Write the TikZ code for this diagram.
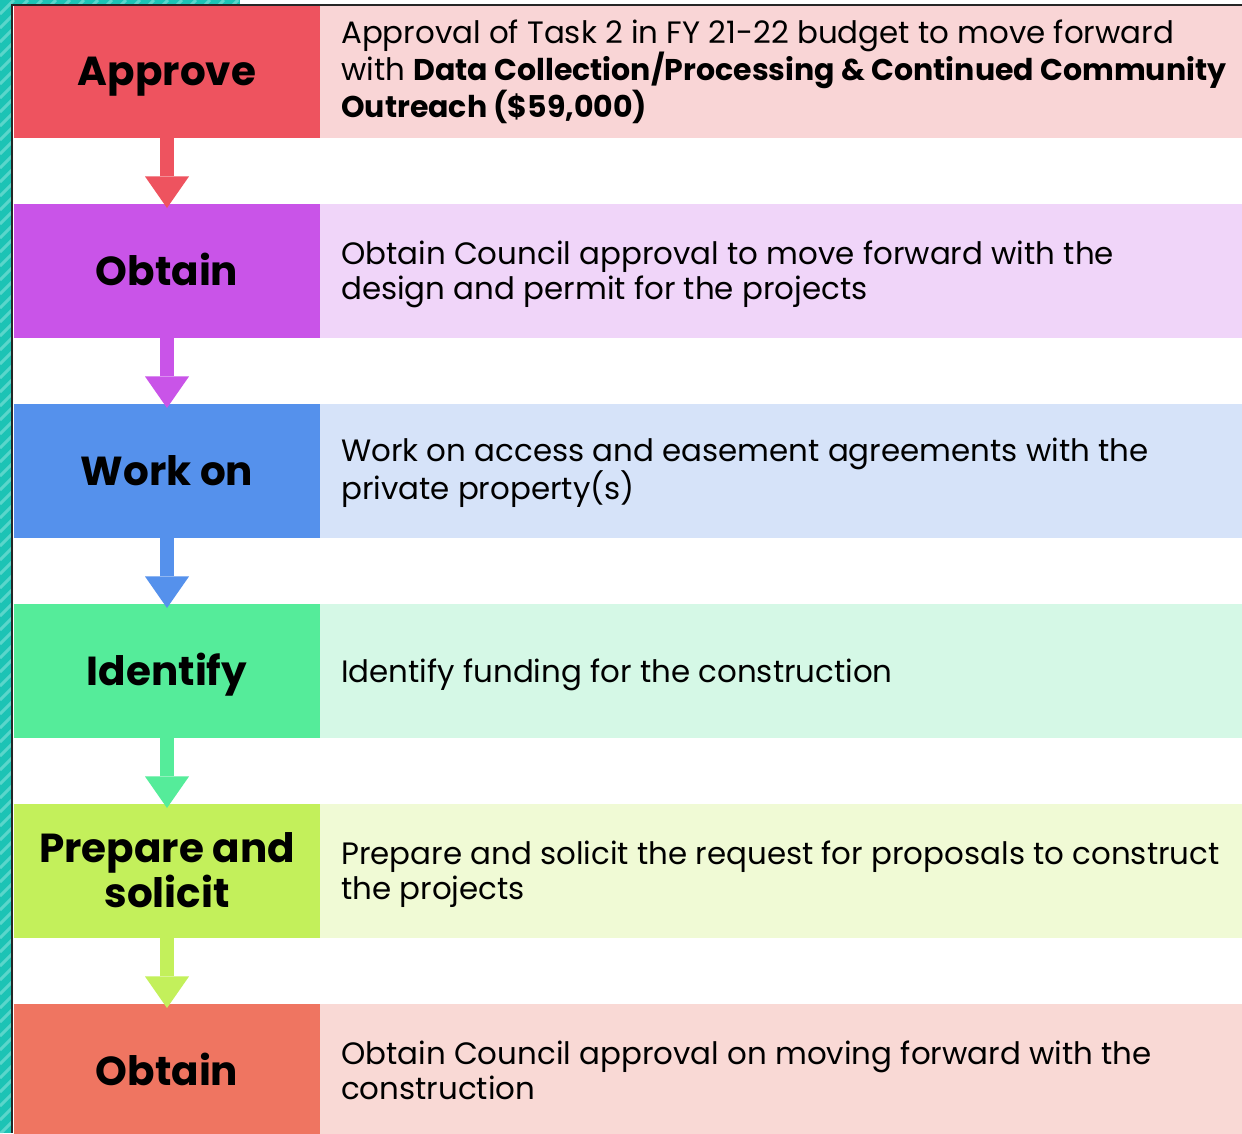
\documentclass[tikz,border=0pt]{standalone}
\usepackage{fontspec}
\setmainfont{Poppins}
\usetikzlibrary{calc}
\newcommand{\bpart}[1]{{\fontsize{30}{35.5}\selectfont\bfseries #1}}
\begin{document}
\begin{tikzpicture}[x=1pt,y=-1pt,
  lbl/.style={font=\fontsize{40.5}{45}\selectfont\bfseries, align=center, text=black, anchor=base, inner sep=0pt},
  desc/.style={font=\fontsize{30.9}{35.5}\selectfont, align=left, anchor=base west, text=black, inner sep=0pt},
  leftbox/.style={minimum width=306pt, minimum height=134pt, inner sep=0pt, anchor=north west},
  rightbox/.style={minimum width=922pt, minimum height=134pt, inner sep=0pt, anchor=north west}
]
\definecolor{teal}{HTML}{1CC3B5}
\definecolor{teall}{HTML}{5AD6CB}
\definecolor{c1}{HTML}{EE535F}\definecolor{l1}{HTML}{F9D5D6}
\definecolor{c2}{HTML}{C954E8}\definecolor{l2}{HTML}{F0D5F9}
\definecolor{c3}{HTML}{5591EC}\definecolor{l3}{HTML}{D6E3F9}
\definecolor{c4}{HTML}{55EC9A}\definecolor{l4}{HTML}{D5F8E6}
\definecolor{c5}{HTML}{C3F05B}\definecolor{l5}{HTML}{F0FAD5}
\definecolor{c6}{HTML}{EF7561}\definecolor{l6}{HTML}{F9D9D5}
\useasboundingbox (0,0) rectangle (1242,1133);
\fill[white] (0,0) rectangle (1242,1133);
% teal striped frame
\begin{scope}
\clip (0,0) rectangle (240,5) (0,0) rectangle (12,1133);
\fill[teal] (0,0) rectangle (240,1133);
\foreach \k in {0,14,...,1400} {
  \draw[teall, line width=3pt] (0,\k) -- (\k,0);
}
\end{scope}
% rows: index / label / label lines / description / description lines
\foreach \i/\lab/\ln/\txt/\dn in {
 1/{Approve}/1/{Approval of Task 2 in FY 21-22 budget to move forward\\with \bpart{Data Collection/Processing \& Continued Community}\\\bpart{Outreach (\$59,000)}}/3,
 2/{Obtain}/1/{Obtain Council approval to move forward with the\\design and permit for the projects}/2,
 3/{Work on}/1/{Work on access and easement agreements with the\\private property(s)}/2,
 4/{Identify}/1/{Identify funding for the construction}/1,
 5/{Prepare and\\solicit}/2/{Prepare and solicit the request for proposals to construct\\the projects}/2,
 6/{Obtain}/1/{Obtain Council approval on moving forward with the\\construction}/2} {
  \pgfmathsetmacro{\ytop}{4+200*(\i-1)}
  \pgfmathsetmacro{\yl}{\ytop+67+14+(\ln-1)*22.5}
  \pgfmathsetmacro{\yd}{\ytop+67+11+(\dn-1)*17.75}
  \node[rightbox, fill=l\i] (r\i) at (320,\ytop) {};
  \node[leftbox, fill=c\i] (b\i) at (14,\ytop) {};
  \node[lbl] (t\i) at (167,\yl) {\lab};
  \node[desc] (d\i) at (341,\yd) {\txt};
}
% arrows
\foreach \i [evaluate=\i as \j using int(\i+1)] in {1,...,5} {
  \coordinate (s\i) at (b\i.south -| 167,0);
  \coordinate (h\i) at ($(s\i)!0.58!(b\j.north -| 167,0)$);
  \coordinate (e\i) at ([yshift=-4pt]b\j.north -| 167,0);
  \fill[c\i] ([xshift=-7pt]s\i) rectangle ([xshift=7pt]h\i);
  \fill[c\i] ([xshift=-22pt]h\i) -- ([xshift=22pt]h\i) -- (e\i) -- cycle;
}
% black frame lines
\draw[black!85, line width=2pt] (12,1133) -- (12,5) -- (1242,5);
\end{tikzpicture}
\end{document}
